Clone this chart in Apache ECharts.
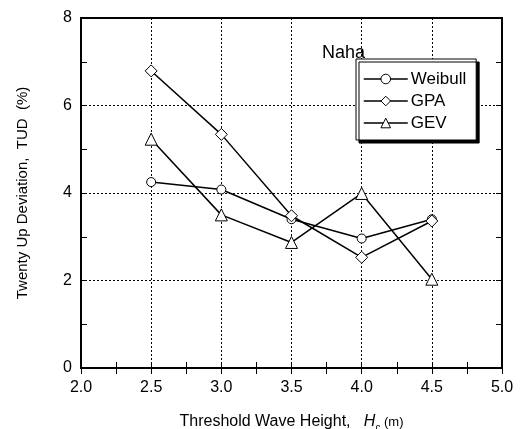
<!DOCTYPE html>
<html>
<head>
<meta charset="utf-8">
<script src="https://cdn.jsdelivr.net/npm/echarts@6/dist/echarts.min.js"></script>
<style>html,body{margin:0;padding:0;background:#fff;}#c{width:521px;height:429px;}</style>
</head>
<body>
<div id="c"></div>
<script>
const thresholds = [2.5, 3.0, 3.5, 4.0, 4.5];
const weibull = [4.25, 4.08, 3.40, 2.96, 3.40];
const gpa = [6.79, 5.34, 3.48, 2.53, 3.36];
const gev = [5.23, 3.50, 2.87, 3.99, 2.03];
const seriesNames = ['Weibull', 'GPA', 'GEV'];
const symbols = ['circle', 'diamond', 'triangle'];
const symbolSizes = [9, 12, 12];
const allValues = [weibull, gpa, gev];

const FONT = 'Liberation Sans, Arial, sans-serif';
const chart = echarts.init(document.getElementById('c'), null, {renderer: 'canvas'});

const axisCommon = {
  axisLine: {show: false},
  axisTick: {show: true, inside: true, length: 6, lineStyle: {color: '#000', width: 1}},
  minorTick: {show: true, splitNumber: 2, length: 6, lineStyle: {color: '#000', width: 1}},
};

const option = {
  animation: false,
  backgroundColor: '#fff',
  title: {
    text: 'Naha', left: 317, top: 39,
    textStyle: {fontFamily: FONT, fontSize: 18, fontWeight: 'normal', color: '#000'}
  },
  grid: {left: 81, top: 18, width: 421, height: 350, outerBoundsMode: 'none', containLabel: false,
         show: true, borderColor: '#000', borderWidth: 2, backgroundColor: 'transparent'},
  legend: {
    orient: 'vertical', left: 356, top: 59, z: 20,
    padding: [10, 10, 7, 7], itemGap: 2,
    itemWidth: 44, itemHeight: 12,
    itemStyle: {borderWidth: 1, borderColor: '#000', color: '#fff'},
    lineStyle: {width: 1.5, color: '#000'},
    backgroundColor: '#fff', borderColor: '#000', borderWidth: 1,
    shadowColor: '#000', shadowOffsetX: 3, shadowOffsetY: 3, shadowBlur: 0.5,
    textStyle: {fontFamily: FONT, fontSize: 17, color: '#000', lineHeight: 20, padding: [0, 0, 0, -2]},
    data: seriesNames
  },
  xAxis: [
    Object.assign({}, axisCommon, {
      type: 'value', min: 2, max: 5, interval: 0.5,
      name: '{a|Threshold Wave Height,   }{i|H}{s|c}{m| (m)}',
      nameLocation: 'middle', nameGap: 43,
      nameTextStyle: {rich: {
        a: {fontFamily: FONT, fontSize: 16, color: '#000'},
        i: {fontFamily: FONT, fontSize: 16, fontStyle: 'italic', color: '#000'},
        s: {fontFamily: FONT, fontSize: 10, color: '#000', verticalAlign: 'bottom', padding: [12, 0, 0, 0]},
        m: {fontFamily: FONT, fontSize: 13, color: '#000'}
      }},
      axisLabel: {fontFamily: FONT, fontSize: 16, color: '#000', margin: 12, formatter: v => v.toFixed(1)},
      splitLine: {show: true, lineStyle: {color: '#000', width: 1, type: [2, 2]}}
    }),
    Object.assign({}, axisCommon, {
      type: 'value', min: 2, max: 5, interval: 0.5, position: 'top',
      axisLabel: {show: false}, splitLine: {show: false}
    })
  ],
  yAxis: [
    Object.assign({}, axisCommon, {
      type: 'value', min: 0, max: 8, interval: 2,
      name: 'Twenty Up Deviation,  TUD  (%)',
      nameLocation: 'middle', nameGap: 51,
      nameTextStyle: {fontFamily: FONT, fontSize: 15, color: '#000'},
      axisLabel: {fontFamily: FONT, fontSize: 16, color: '#000', margin: 9},
      splitLine: {show: true, lineStyle: {color: '#000', width: 1, type: [2, 2]}}
    }),
    Object.assign({}, axisCommon, {
      type: 'value', min: 0, max: 8, interval: 2, position: 'right',
      axisLabel: {show: false}, splitLine: {show: false}
    })
  ],
  series: seriesNames.map((n, i) => ({
    name: n, type: 'line',
    data: thresholds.map((x, j) => [x, allValues[i][j]]),
    symbol: symbols[i], symbolSize: symbolSizes[i],
    lineStyle: {color: '#000', width: 1.5},
    itemStyle: {color: '#fff', borderColor: '#000', borderWidth: 1},
    z: 3 + i
  }))
};
chart.setOption(option);
</script>
</body>
</html>
